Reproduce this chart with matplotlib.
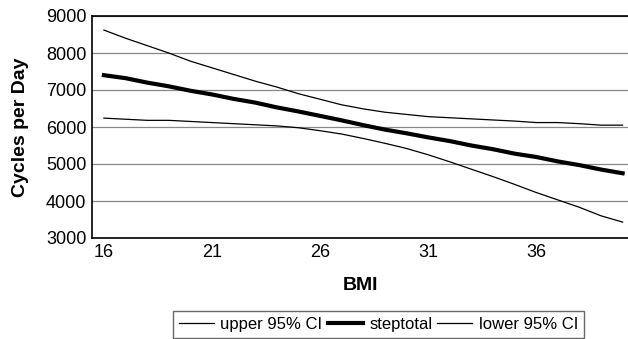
import numpy as np
import matplotlib.pyplot as plt

plt.rcParams['font.family'] = ['Liberation Sans', 'DejaVu Sans']

bmi = list(range(16, 41))
upper = [8620, 8400, 8200, 8000, 7780, 7600, 7420, 7240, 7080, 6900,
         6750, 6600, 6490, 6400, 6340, 6280, 6250, 6220, 6190, 6160,
         6120, 6120, 6090, 6050, 6050]
steptotal = [7400, 7320, 7200, 7100, 6980, 6880, 6760, 6660, 6530, 6420,
             6300, 6180, 6050, 5930, 5830, 5720, 5620, 5500, 5400, 5280,
             5190, 5070, 4970, 4850, 4750]
lower = [6240, 6210, 6180, 6180, 6150, 6120, 6090, 6060, 6030, 5980,
         5900, 5810, 5690, 5560, 5420, 5250, 5060, 4860, 4660, 4450,
         4230, 4030, 3830, 3600, 3430]
xticks = [16, 21, 26, 31, 36]

fig = plt.figure(figsize=(6.28, 3.39), dpi=100)
ax = fig.add_axes([92/628, 1 - 238/339, 1 - 92/628, 222/339])

ax.plot(bmi, upper, color='black', lw=0.9, label='upper 95% CI')
ax.plot(bmi, steptotal, color='black', lw=3.0, label='steptotal')
ax.plot(bmi, lower, color='black', lw=0.9, label='lower 95% CI')

ax.set_xlim(15.45, 40.25)
ax.set_ylim(3000, 9000)
ax.set_xticks(xticks)
ax.set_yticks(range(3000, 9001, 1000))
ax.yaxis.grid(True, color='#888888', lw=0.9)
ax.set_axisbelow(True)
ax.tick_params(length=0, labelsize=13, pad=4)
for s in ['left', 'bottom', 'top']:
    ax.spines[s].set_linewidth(1.2)
ax.spines['right'].set_visible(False)

ax.set_xlabel('BMI', fontsize=14, fontweight='bold', labelpad=12)
ax.set_ylabel('Cycles per Day', fontsize=14, fontweight='bold', labelpad=12)

fig.legend(loc='upper left', bbox_to_anchor=(173/628, 1 - 311/339), ncol=3,
           fontsize=12, frameon=True, fancybox=False, edgecolor='#444444',
           handlelength=2.1, handletextpad=0.4, columnspacing=0.3,
           borderpad=0.35, borderaxespad=0)

fig.savefig('out.png', dpi=100)
